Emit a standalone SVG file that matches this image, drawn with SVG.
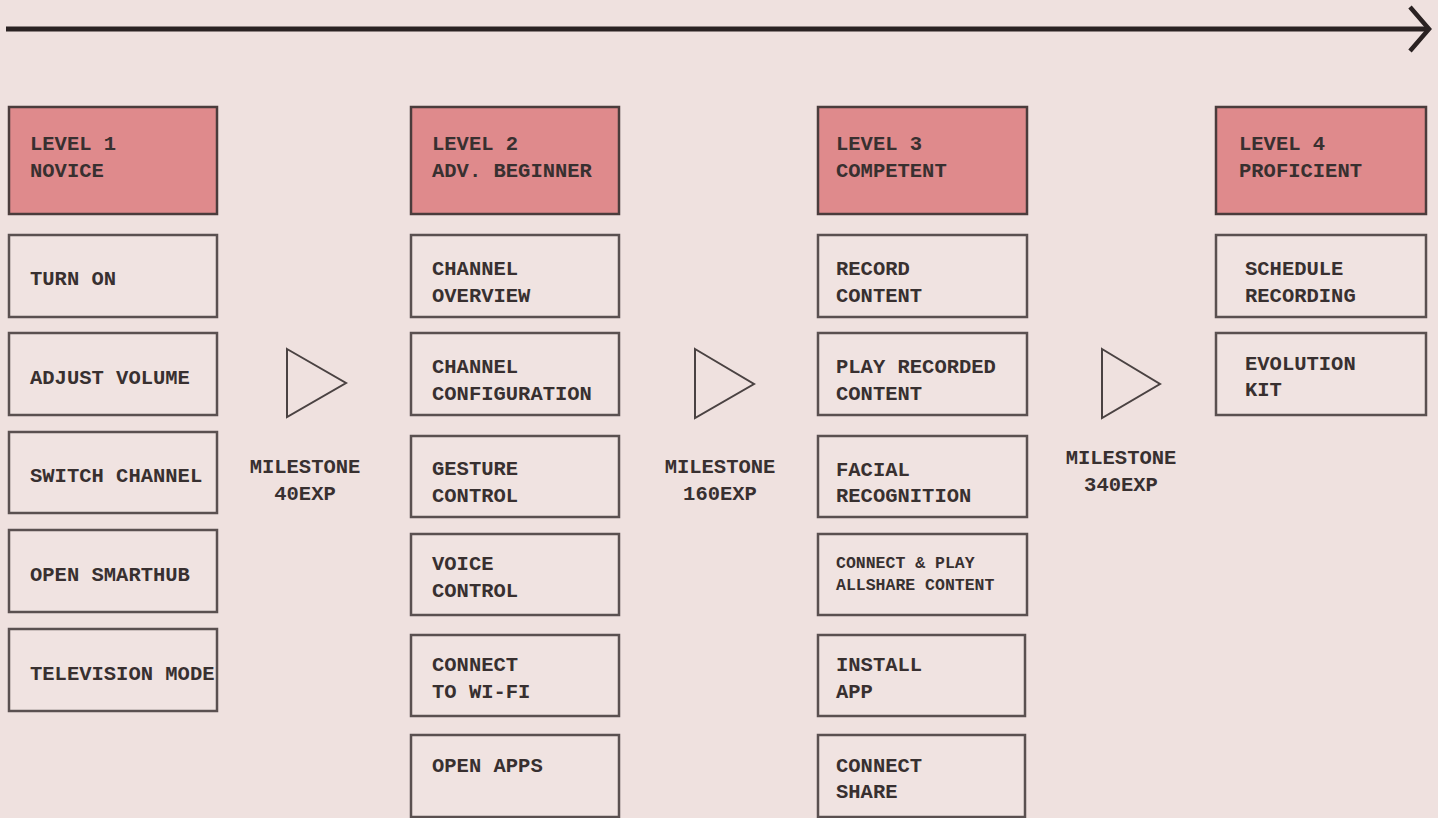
<svg xmlns="http://www.w3.org/2000/svg" width="1438" height="818" viewBox="0 0 1438 818">
<defs>
<style>
.bg{fill:#EFE1DF}
.hdr{fill:#DF8A8C;stroke:#4A3C3C;stroke-width:2.5}
.item{fill:#F0E3E1;stroke:#5A5050;stroke-width:2.5}
.t{font-family:"Liberation Mono","DejaVu Sans Mono",monospace;font-size:20.5px;font-weight:bold;fill:#383030}
.ts{font-family:"Liberation Mono","DejaVu Sans Mono",monospace;font-size:16.5px;font-weight:bold;fill:#383030}
.tm{font-family:"Liberation Mono","DejaVu Sans Mono",monospace;font-size:20.5px;font-weight:bold;fill:#383030;text-anchor:middle}
.tri{fill:none;stroke:#4A4242;stroke-width:2}
</style>
</defs>
<rect class="bg" x="0" y="0" width="1438" height="818"/>
<g id="connectors">
<line x1="6" y1="29" x2="1427" y2="29" stroke="#2A2222" stroke-width="5"/>
<polyline points="1410,7 1429,29 1410,51" fill="none" stroke="#2A2222" stroke-width="4.5"/>
</g>
<!-- Column 1 -->
<g id="level1"><rect class="hdr" x="9" y="107" width="208" height="107"/><text class="t" x="30" y="150">LEVEL 1</text><text class="t" x="30" y="177">NOVICE</text></g>
<g id="turn-on"><rect class="item" x="9" y="235" width="208" height="82"/><text class="t" x="30" y="285">TURN ON</text></g>
<g id="adjust-volume"><rect class="item" x="9" y="333" width="208" height="82"/><text class="t" x="30" y="384">ADJUST VOLUME</text></g>
<g id="switch-channel"><rect class="item" x="9" y="432" width="208" height="81"/><text class="t" x="30" y="482">SWITCH CHANNEL</text></g>
<g id="open-smarthub"><rect class="item" x="9" y="530" width="208" height="82"/><text class="t" x="30" y="581">OPEN SMARTHUB</text></g>
<g id="television-mode"><rect class="item" x="9" y="629" width="208" height="82"/><text class="t" x="30" y="680">TELEVISION MODE</text></g>
<!-- Milestone 1 -->
<g id="milestone1"><polygon class="tri" points="287,349 346,383 287,417"/><text class="tm" x="305" y="473">MILESTONE</text><text class="tm" x="305" y="500">40EXP</text></g>
<!-- Column 2 -->
<g id="level2"><rect class="hdr" x="411" y="107" width="208" height="107"/><text class="t" x="432" y="150">LEVEL 2</text><text class="t" x="432" y="177">ADV. BEGINNER</text></g>
<g id="channel-overview"><rect class="item" x="411" y="235" width="208" height="82"/><text class="t" x="432" y="275">CHANNEL</text><text class="t" x="432" y="302">OVERVIEW</text></g>
<g id="channel-configuration"><rect class="item" x="411" y="333" width="208" height="82"/><text class="t" x="432" y="373">CHANNEL</text><text class="t" x="432" y="400">CONFIGURATION</text></g>
<g id="gesture-control"><rect class="item" x="411" y="436" width="208" height="81"/><text class="t" x="432" y="475">GESTURE</text><text class="t" x="432" y="502">CONTROL</text></g>
<g id="voice-control"><rect class="item" x="411" y="534" width="208" height="81"/><text class="t" x="432" y="570">VOICE</text><text class="t" x="432" y="597">CONTROL</text></g>
<g id="connect-wifi"><rect class="item" x="411" y="635" width="208" height="81"/><text class="t" x="432" y="671">CONNECT</text><text class="t" x="432" y="698">TO WI-FI</text></g>
<g id="open-apps"><rect class="item" x="411" y="735" width="208" height="82"/><text class="t" x="432" y="772">OPEN APPS</text></g>
<!-- Milestone 2 -->
<g id="milestone2"><polygon class="tri" points="695,349 754,384 695,418"/><text class="tm" x="720" y="473">MILESTONE</text><text class="tm" x="720" y="500">160EXP</text></g>
<!-- Column 3 -->
<g id="level3"><rect class="hdr" x="818" y="107" width="209" height="107"/><text class="t" x="836" y="150">LEVEL 3</text><text class="t" x="836" y="177">COMPETENT</text></g>
<g id="record-content"><rect class="item" x="818" y="235" width="209" height="82"/><text class="t" x="836" y="275">RECORD</text><text class="t" x="836" y="302">CONTENT</text></g>
<g id="play-recorded"><rect class="item" x="818" y="333" width="209" height="82"/><text class="t" x="836" y="373">PLAY RECORDED</text><text class="t" x="836" y="400">CONTENT</text></g>
<g id="facial-recognition"><rect class="item" x="818" y="436" width="209" height="81"/><text class="t" x="836" y="476">FACIAL</text><text class="t" x="836" y="502">RECOGNITION</text></g>
<g id="connect-play-allshare"><rect class="item" x="818" y="534" width="209" height="81"/><text class="ts" x="836" y="568">CONNECT &amp; PLAY</text><text class="ts" x="836" y="590">ALLSHARE CONTENT</text></g>
<g id="install-app"><rect class="item" x="818" y="635" width="207" height="81"/><text class="t" x="836" y="671">INSTALL</text><text class="t" x="836" y="698">APP</text></g>
<g id="connect-share"><rect class="item" x="818" y="735" width="207" height="82"/><text class="t" x="836" y="772">CONNECT</text><text class="t" x="836" y="798">SHARE</text></g>
<!-- Milestone 3 -->
<g id="milestone3"><polygon class="tri" points="1102,349 1160,384 1102,418"/><text class="tm" x="1121" y="464">MILESTONE</text><text class="tm" x="1121" y="491">340EXP</text></g>
<!-- Column 4 -->
<g id="level4"><rect class="hdr" x="1216" y="107" width="210" height="107"/><text class="t" x="1239" y="150">LEVEL 4</text><text class="t" x="1239" y="177">PROFICIENT</text></g>
<g id="schedule-recording"><rect class="item" x="1216" y="235" width="210" height="82"/><text class="t" x="1245" y="275">SCHEDULE</text><text class="t" x="1245" y="302">RECORDING</text></g>
<g id="evolution-kit"><rect class="item" x="1216" y="333" width="210" height="82"/><text class="t" x="1245" y="370">EVOLUTION</text><text class="t" x="1245" y="396">KIT</text></g>
</svg>
